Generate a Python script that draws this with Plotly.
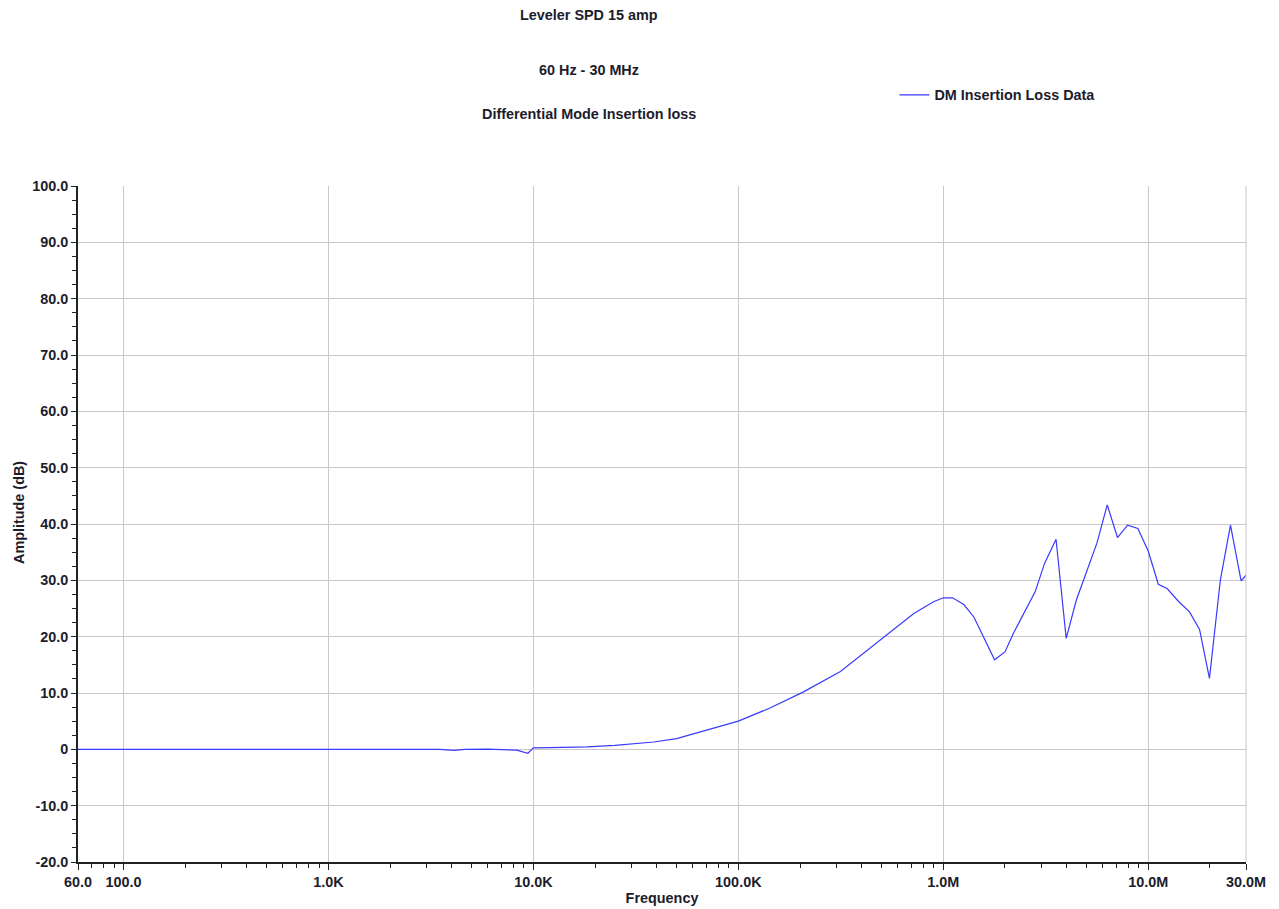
import plotly.graph_objects as go

# Data
freq_hz = [60, 100, 200, 500, 1000, 2000, 3500, 4100, 4600, 6000, 7500, 8300, 9400, 10000,
           12000, 18300, 25000, 38700, 50000, 67800, 100000, 142000, 208000, 315000, 532000,
           718000, 897000, 1000000, 1110000, 1260000, 1410000, 1780000, 2000000, 2200000,
           2810000, 3120000, 3550000, 3980000, 4460000, 5620000, 6310000, 7080000, 7930000,
           8900000, 10000000, 11200000, 12400000, 14100000, 15900000, 17800000, 19900000,
           22500000, 25200000, 28400000, 30000000]
amp_db = [0, 0, 0, 0, 0, 0, 0, -0.2, 0, 0.05, 0, -0.15, -0.7, 0.25,
          0.3, 0.45, 0.7, 1.3, 1.9, 3.3, 5.0, 7.3, 10.2, 13.8, 20.3,
          24.1, 26.2, 26.9, 26.9, 25.7, 23.5, 15.9, 17.3, 20.6,
          28.0, 33.0, 37.3, 19.7, 26.5, 36.6, 43.4, 37.6, 39.8,
          39.2, 35.2, 29.3, 28.5, 26.2, 24.4, 21.3, 12.6,
          30.1, 39.8, 29.9, 30.9]

x_tick_vals = [60, 100, 1000, 10000, 100000, 1000000, 10000000, 30000000]
x_tick_text = ["60.0", "100.0", "1.0K", "10.0K", "100.0K", "1.0M", "10.0M", "30.0M"]
y_tick_vals = [-20, -10, 0, 10, 20, 30, 40, 50, 60, 70, 80, 90, 100]
y_tick_text = ["-20.0", "-10.0", "0", "10.0", "20.0", "30.0", "40.0", "50.0",
               "60.0", "70.0", "80.0", "90.0", "100.0"]

titles = ["Leveler SPD 15 amp", "60 Hz - 30 MHz", "Differential Mode Insertion loss"]
series_name = "DM Insertion Loss Data"
x_title = "Frequency"
y_title = "Amplitude (dB)"

minor_x = []
for dec in [10, 100, 1000, 10000, 100000, 1000000, 10000000]:
    for m in range(2, 10):
        v = m * dec
        if 60 < v < 30000000 and v not in x_tick_vals:
            minor_x.append(v)

FONT = "Liberation Sans, Arial, sans-serif"
TXT = "#1c1c2c"
FS = 14.4
PW, PH = 1168, 676  # plot area size in px

fig = go.Figure()
fig.add_trace(go.Scatter(x=freq_hz, y=amp_db, mode="lines", name=series_name,
                         line=dict(color="#3a3aff", width=1.2)))

fig.update_layout(
    width=1271, height=901,
    margin=dict(l=70, r=33, t=178, b=47, autoexpand=False),
    paper_bgcolor="white", plot_bgcolor="white",
    font=dict(family=FONT, size=FS, color=TXT),
    showlegend=True,
    legend=dict(x=0.699, y=(854 - 87) / PH, xanchor="left", yanchor="middle",
                font=dict(family=FONT, size=FS, color=TXT, weight="bold"),
                bgcolor="rgba(0,0,0,0)"),
)

ypos = [7, 62, 106]
for t, yp in zip(titles, ypos):
    fig.add_annotation(text="<b>%s</b>" % t, xref="paper", yref="paper",
                       x=(581 - 70) / PW, y=(854 - yp) / PH,
                       xanchor="center", yanchor="middle", showarrow=False,
                       font=dict(family=FONT, size=FS, color=TXT))

# y-axis title as rotated annotation
fig.add_annotation(text="<b>%s</b>" % y_title, xref="paper", yref="paper",
                   x=(11 - 70) / PW, y=(854 - 505) / PH, textangle=-90,
                   xanchor="center", yanchor="middle", showarrow=False,
                   font=dict(family=FONT, size=FS, color=TXT))

fig.update_xaxes(
    type="log", range=[1.77815, 7.47712], automargin=False,
    tickmode="array", tickvals=x_tick_vals, ticktext=x_tick_text,
    tickfont=dict(family=FONT, size=FS, color=TXT, weight="bold"),
    showgrid=True, gridcolor="#c8c8c8", gridwidth=1,
    showline=True, linecolor="#222", linewidth=1.5,
    ticks="outside", ticklen=6, tickcolor="#222",
    minor=dict(tickmode="array", tickvals=minor_x, ticks="outside", ticklen=4,
               tickcolor="#222", showgrid=False),
    zeroline=False,
    title=dict(text="<b>%s</b>" % x_title, font=dict(family=FONT, size=FS, color=TXT), standoff=4),
)
fig.update_yaxes(
    range=[-20, 100], automargin=False,
    tickmode="array", tickvals=y_tick_vals, ticktext=y_tick_text,
    tickfont=dict(family=FONT, size=FS, color=TXT, weight="bold"),
    showgrid=True, gridcolor="#c8c8c8", gridwidth=1,
    showline=True, linecolor="#222", linewidth=1.5,
    ticks="outside", ticklen=5, tickcolor="#222",
    minor=dict(dtick=2.5, tick0=0, ticks="outside", ticklen=4, tickcolor="#222", showgrid=False),
    zeroline=False,
)

# right border line at 30M (grid-like)
fig.add_shape(type="line", xref="paper", yref="paper", x0=1, x1=1, y0=0, y1=1,
              line=dict(color="#c8c8c8", width=1))

fig.write_html("out.html")
